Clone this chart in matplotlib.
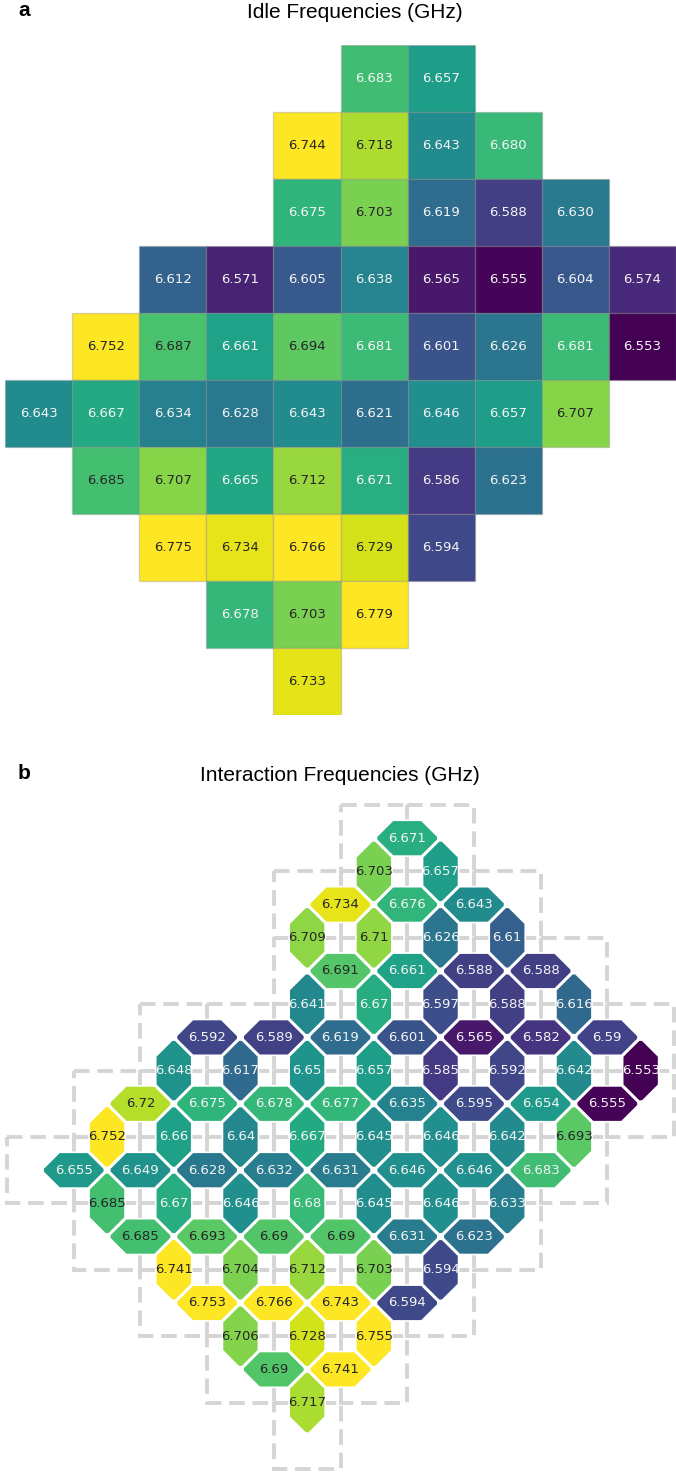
import matplotlib
matplotlib.use("Agg")
import matplotlib.pyplot as plt
from matplotlib.patches import Rectangle, Polygon
from matplotlib.colors import Normalize

# figure size in pixels
W, H = 676, 1475

# first occupied column of each qubit row
row_start = [5, 4, 4, 2, 1, 0, 1, 2, 3, 4]

# idle frequencies (GHz), row by row
idle_ghz = [
    [6.683, 6.657],
    [6.744, 6.718, 6.643, 6.680],
    [6.675, 6.703, 6.619, 6.588, 6.630],
    [6.612, 6.571, 6.605, 6.638, 6.565, 6.555, 6.604, 6.574],
    [6.752, 6.687, 6.661, 6.694, 6.681, 6.601, 6.626, 6.681, 6.553],
    [6.643, 6.667, 6.634, 6.628, 6.643, 6.621, 6.646, 6.657, 6.707],
    [6.685, 6.707, 6.665, 6.712, 6.671, 6.586, 6.623],
    [6.775, 6.734, 6.766, 6.729, 6.594],
    [6.678, 6.703, 6.779],
    [6.733],
]

# interaction frequencies (GHz) of couplers inside a row (left to right)
horiz_ghz = [
    [6.671],
    [6.734, 6.676, 6.643],
    [6.691, 6.661, 6.588, 6.588],
    [6.592, 6.589, 6.619, 6.601, 6.565, 6.582, 6.59],
    [6.72, 6.675, 6.678, 6.677, 6.635, 6.595, 6.654, 6.555],
    [6.655, 6.649, 6.628, 6.632, 6.631, 6.646, 6.646, 6.683],
    [6.685, 6.693, 6.69, 6.69, 6.631, 6.623],
    [6.753, 6.766, 6.743, 6.594],
    [6.69, 6.741],
    [],
]

# interaction frequencies (GHz) of couplers between row r and r+1
vert_ghz = [
    [6.703, 6.657],
    [6.709, 6.71, 6.626, 6.61],
    [6.641, 6.67, 6.597, 6.588, 6.616],
    [6.648, 6.617, 6.65, 6.657, 6.585, 6.592, 6.642, 6.553],
    [6.752, 6.66, 6.64, 6.667, 6.645, 6.646, 6.642, 6.693],
    [6.685, 6.67, 6.646, 6.68, 6.645, 6.646, 6.633],
    [6.741, 6.704, 6.712, 6.703, 6.594],
    [6.706, 6.728, 6.755],
    [6.717],
]

cmap = plt.get_cmap("viridis")
norm = Normalize(vmin=6.553, vmax=6.741)


def text_color(v):
    return "#262626" if norm(v) > 0.7 else "#f5f5f5"


def octagon(cx, cy, hx, hy, d=0.485):
    pts = [(d - hy, hy), (hx, d - hx), (hx, -(d - hx)), (d - hy, -hy),
           (-(d - hy), -hy), (-hx, -(d - hx)), (-hx, d - hx), (-(d - hy), hy)]
    return [(cx + x, cy + y) for x, y in pts]


fig = plt.figure(figsize=(W / 100, H / 100), dpi=100)

# ---- panel a: idle frequencies
ax_a = fig.add_axes([5 / W, 1 - 715 / H, 671 / W, 670 / H])
for r, (c0, vals) in enumerate(zip(row_start, idle_ghz)):
    for k, v in enumerate(vals):
        c = c0 + k
        ax_a.add_patch(Rectangle((c, r), 1, 1, facecolor=cmap(norm(v)),
                                 edgecolor=(0.5, 0.5, 0.5, 0.3), lw=1.0))
        ax_a.text(c + 0.5, r + 0.5, f"{v:.3f}", ha="center", va="center",
                  fontsize=9.5, color=text_color(v))
ax_a.set_xlim(0, 10)
ax_a.set_ylim(10, 0)
ax_a.axis("off")

# ---- panel b: interaction frequencies
ax_b = fig.add_axes([7 / W, 1 - 1469 / H, 667 / W, 664 / H])
for r, (c0, vals) in enumerate(zip(row_start, idle_ghz)):
    for k in range(len(vals)):
        ax_b.add_patch(Rectangle((c0 + k, r), 1, 1, fill=False,
                                 edgecolor="#d5d5d5", lw=2.8,
                                 linestyle=(0, (4, 2)), zorder=1,
                                 clip_on=False))


def add_coupler(cx, cy, v, horizontal):
    hx, hy = (0.46, 0.27) if horizontal else (0.27, 0.46)
    ax_b.add_patch(Polygon(octagon(cx, cy, hx, hy), closed=True,
                           facecolor=cmap(norm(v)), edgecolor="white",
                           lw=1.2, zorder=2))
    ax_b.text(cx, cy, f"{v:g}", ha="center", va="center", fontsize=9.5,
              color=text_color(v), zorder=3)


for r, vals in enumerate(horiz_ghz):
    for k, v in enumerate(vals):
        add_coupler(row_start[r] + k + 1, r + 0.5, v, True)

for r, vals in enumerate(vert_ghz):
    c0 = max(row_start[r], row_start[r + 1])
    for k, v in enumerate(vals):
        add_coupler(c0 + k + 0.5, r + 1, v, False)

ax_b.set_xlim(0, 10)
ax_b.set_ylim(10, 0)
ax_b.axis("off")

# titles and panel letters
title_font = ["Liberation Sans", "DejaVu Sans"]
fig.text(355 / W, 1 - 18 / H, "Idle Frequencies (GHz)", ha="center",
         va="baseline", fontsize=15, family=title_font)
fig.text(18 / W, 1 - 16 / H, "a", ha="left", va="baseline", fontsize=15,
         fontweight="bold", family=title_font)
fig.text(340 / W, 1 - 781 / H, "Interaction Frequencies (GHz)", ha="center",
         va="baseline", fontsize=15, family=title_font)
fig.text(18 / W, 1 - 779 / H, "b", ha="left", va="baseline", fontsize=15,
         fontweight="bold", family=title_font)

fig.savefig("out.png", dpi=100)
